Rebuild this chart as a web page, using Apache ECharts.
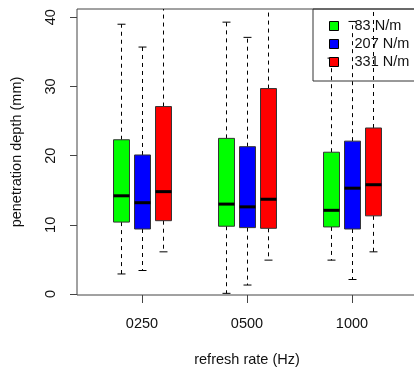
<!DOCTYPE html>
<html>
<head>
<meta charset="utf-8">
<title></title>
<script src="https://cdn.jsdelivr.net/npm/echarts@6/dist/echarts.min.js"></script>
<style>
html, body { margin: 0; padding: 0; background: #fff; }
#main { width: 414px; height: 372px; }
</style>
</head>
<body>
<div id="main"></div>
<script>
var rates = ['0250', '0500', '1000'];
var ratePos = [2, 7, 12];
var springs = ['83 N/m', '207 N/m', '331 N/m'];
var colors = ['#00ff00', '#0000ff', '#ff0000'];
var yTicks = [0, 10, 20, 30, 40];
// [lower whisker, q1, median, q3, upper whisker] for each refresh rate
var box83 = [[2.9, 10.4, 14.2, 22.3, 39.0], [0.1, 9.8, 13.0, 22.5, 39.3], [4.9, 9.7, 12.1, 20.5, 34.1]];
var box207 = [[3.4, 9.4, 13.2, 20.1, 35.7], [1.3, 9.6, 12.6, 21.3, 37.1], [2.1, 9.4, 15.3, 22.1, 39.4]];
var box331 = [[6.1, 10.6, 14.8, 27.1, 44.0], [4.9, 9.5, 13.7, 29.7, 45.0], [6.1, 11.3, 15.8, 24.0, 44.0]];
var boxes = [box83, box207, box331];

var myChart = echarts.init(document.getElementById('main'));

function renderBox(params, api) {
	var x = api.value(0);
	var lo = api.coord([x, api.value(1)]);
	var q1 = api.coord([x, api.value(2)]);
	var med = api.coord([x, api.value(3)]);
	var q3 = api.coord([x, api.value(4)]);
	var hi = api.coord([x, api.value(5)]);
	var w = api.size([0.76, 0])[0];
	var cx = Math.round(lo[0]) + 0.5;
	var dash = { stroke: '#000', lineWidth: 1, lineDash: [4, 4] };
	var solid = { stroke: '#000', lineWidth: 1 };
	return {
		type: 'group',
		children: [
			{ type: 'line', shape: { x1: cx, y1: q3[1], x2: cx, y2: hi[1] }, style: dash },
			{ type: 'line', shape: { x1: cx, y1: q1[1], x2: cx, y2: lo[1] }, style: dash },
			{ type: 'line', shape: { x1: cx - w / 4, y1: hi[1], x2: cx + w / 4, y2: hi[1] }, style: solid },
			{ type: 'line', shape: { x1: cx - w / 4, y1: lo[1], x2: cx + w / 4, y2: lo[1] }, style: solid },
			{ type: 'rect', shape: { x: cx - w / 2, y: q3[1], width: w, height: q1[1] - q3[1] },
				style: { fill: api.visual('color'), stroke: '#333', lineWidth: 1 } },
			{ type: 'line', shape: { x1: cx - w / 2, y1: med[1], x2: cx + w / 2, y2: med[1] },
				style: { stroke: '#000', lineWidth: 3 } }
		]
	};
}

var series = springs.map(function (name, s) {
	return {
		name: name,
		type: 'custom',
		clip: true,
		renderItem: renderBox,
		itemStyle: { color: colors[s] },
		encode: { x: 0, y: [1, 2, 3, 4, 5] },
		data: ratePos.map(function (p, i) {
			return [p + s - 1].concat(boxes[s][i]);
		})
	};
});

var option = {
	animation: false,
	backgroundColor: '#fff',
	textStyle: { fontFamily: 'Liberation Sans, Arial, sans-serif' },
	grid: {
		left: 77,
		width: 340,
		top: 9,
		bottom: 77,
		outerBoundsMode: 'none',
		containLabel: false,
		show: true,
		borderColor: '#444',
		borderWidth: 1
	},
	legend: {
		data: springs,
		orient: 'vertical',
		left: 313,
		top: 9,
		padding: [8, 30, 10, 16],
		itemGap: 0,
		itemWidth: 9,
		itemHeight: 9,
		icon: 'rect',
		borderColor: '#333',
		borderWidth: 1,
		itemStyle: { borderColor: '#000', borderWidth: 1 },
		textStyle: { fontSize: 14.5, color: '#111', lineHeight: 18, padding: [0, 0, 0, 11] }
	},
	xAxis: {
		type: 'value',
		min: -1.095,
		max: 15.095,
		name: 'refresh rate (Hz)',
		nameLocation: 'middle',
		nameGap: 57,
		nameTextStyle: { fontSize: 14.5, color: '#111' },
		axisLine: { show: false, onZero: false },
		splitLine: { show: false },
		axisTick: { show: true, length: 8, customValues: ratePos, lineStyle: { color: '#444' } },
		axisLabel: {
			customValues: ratePos,
			margin: 21,
			fontSize: 14.5,
			color: '#111',
			formatter: function (v) { return rates[ratePos.indexOf(v)]; }
		}
	},
	yAxis: {
		type: 'value',
		min: -0.14,
		max: 41.2,
		name: 'penetration depth (mm)',
		nameLocation: 'middle',
		nameGap: 53,
		nameTextStyle: { fontSize: 14.5, color: '#111' },
		axisLine: { show: false, onZero: false },
		splitLine: { show: false },
		axisTick: { show: true, length: 7, customValues: yTicks, lineStyle: { color: '#444' } },
		axisLabel: { customValues: yTicks, rotate: 90, margin: 19, fontSize: 14.5, color: '#111' }
	},
	series: series
};

myChart.setOption(option);
</script>
</body>
</html>
